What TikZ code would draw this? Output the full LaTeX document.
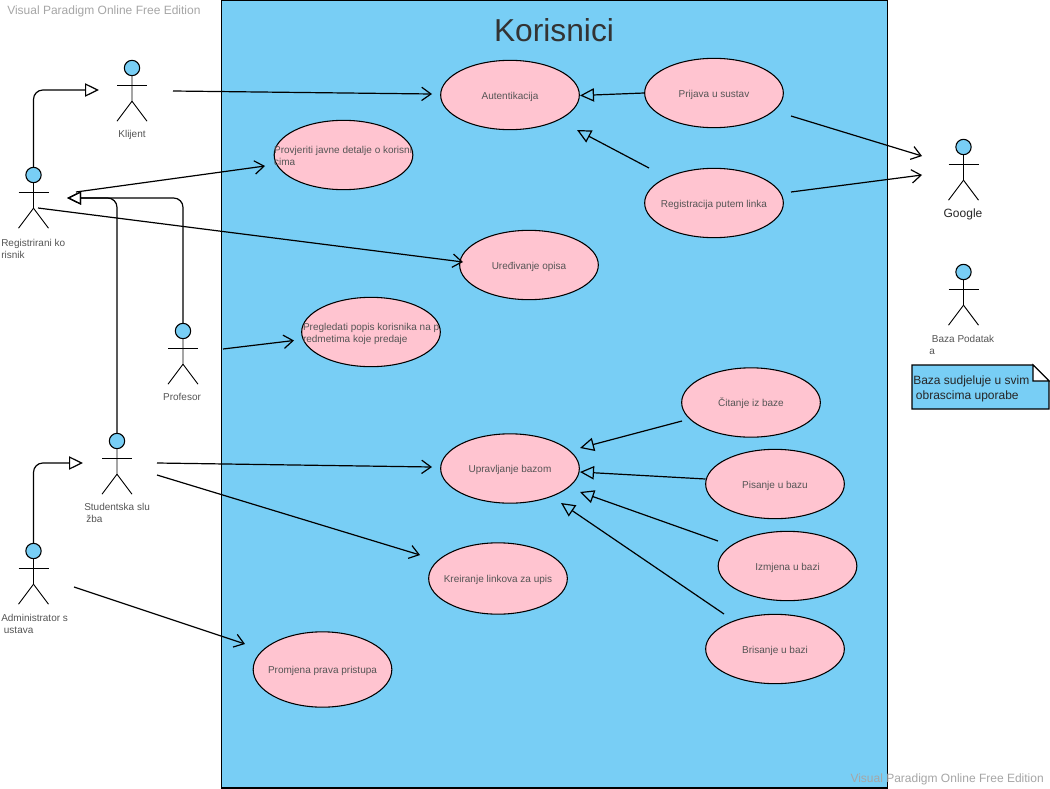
\documentclass[tikz,border=0pt]{standalone}
\usepackage{fontspec}
\setmainfont{Liberation Sans}
\usetikzlibrary{arrows.meta,calc,shapes.geometric}
\definecolor{skyb}{HTML}{78CEF5}
\definecolor{pinkb}{HTML}{FFC4D0}
\definecolor{txtc}{HTML}{555555}
\definecolor{wmark}{HTML}{A6A6A6}
\newcommand{\mkactor}[3]{%
  \node[actorhead] (#1) at (#2,#3) {};
  \draw[actorline] (#1.south) -- ++(0,25) coordinate (#1hip) -- ++(-15,20);
  \draw[actorline] (#1hip) -- ++(15,20);
  \draw[actorline] ($(#1.south)+(-15,9)$) -- ++(30,0);
}
\newcommand{\uc}[1]{\raisebox{-3.2pt}[0pt][0pt]{\makebox[0pt]{#1}}}
\newcommand{\ucl}[4]{\raisebox{#1}[0pt][0pt]{\makebox[0pt][l]{\hspace*{#2}\vbox{\hbox{#3}\hbox{#4}}}}}
\tikzset{
  x=0.75pt,y=-0.75pt,
  sys/.style={draw=black,fill=skyb,line width=0.8pt},
  usecase/.style={ellipse,draw=black,fill=pinkb,line width=0.8pt,minimum width=104pt,minimum height=52pt,inner sep=0pt,
     font=\fontsize{7.5pt}{9pt}\selectfont,text=txtc},
  actorhead/.style={circle,draw=black,fill=skyb,line width=0.8pt,minimum size=11.5pt,inner sep=0pt},
  actorline/.style={draw=black,line width=0.7pt},
  lbl/.style={font=\fontsize{7.5pt}{9pt}\selectfont,text=txtc,inner sep=0pt,align=left},
  assoc/.style={draw=black,line width=0.9pt,-{Straight Barb[length=7pt,width=10pt,line width=0.9pt]}},
  genl/.style={draw=black,line width=0.9pt,rounded corners=7pt,-{Triangle[open,length=10.5pt,width=10pt,line width=0.9pt]}},
  wm/.style={font=\fontsize{9pt}{10pt}\selectfont,text=wmark,inner sep=0pt},
}
\begin{document}
\begin{tikzpicture}
\useasboundingbox (0,0) rectangle (1050,789);
\fill[white] (0,0) rectangle (1050,789);
\node[draw=black,fill=skyb,line width=0.8pt,minimum width=499.5pt,minimum height=591pt,inner sep=0pt] (system) at (554.5,394) {};
\node[font=\fontsize{23.8pt}{28pt}\selectfont,text=black!80,inner sep=0pt] (title) at (554,30) {Korisnici};
\node[wm,anchor=west] (wm1) at (7,11) {Visual Paradigm Online Free Edition};
\node[wm,anchor=east] (wm2) at (1044,779) {Visual Paradigm Online Free Edition};

\node[usecase] (aut) at (510,95) {\uc{Autentikacija}};
\node[usecase] (pri) at (714,93) {\uc{Prijava u sustav}};
\node[usecase] (reg) at (714,203) {\uc{Registracija putem linka}};
\node[usecase] (pro) at (343.5,155) {\ucl{-8.2pt}{-52pt}{Provjeriti javne detalje o korisni}{cima}};
\node[usecase] (ure) at (529,265) {\uc{Uređivanje opisa}};
\node[usecase] (pre) at (371,332) {\ucl{-7.5pt}{-51pt}{Pregledati popis korisnika na p}{redmetima koje predaje}};
\node[usecase] (upr) at (510,468.5) {\uc{Upravljanje bazom}};
\node[usecase] (cit) at (751,402.5) {\uc{Čitanje iz baze}};
\node[usecase] (pis) at (775,484) {\uc{Pisanje u bazu}};
\node[usecase] (izm) at (787.5,566) {\uc{Izmjena u bazi}};
\node[usecase] (bri) at (775,649) {\uc{Brisanje u bazi}};
\node[usecase,minimum height=53.5pt] (kre) at (498,578.5) {\uc{Kreiranje linkova za upis}};
\node[usecase,minimum height=56.5pt] (prm) at (322.5,669.5) {\uc{Promjena prava pristupa}};

\mkactor{kl}{132}{68}
\mkactor{rk}{33.5}{175}
\mkactor{pf}{183}{331}
\mkactor{ss}{117}{441}
\mkactor{ad}{33.5}{551}
\mkactor{go}{963.5}{147}
\mkactor{bp}{963.5}{272}

\node[lbl] (lkl) at (132,135) {Klijent};
\node[lbl,anchor=west] (lrk) at (1,249) {Registrirani ko\\risnik};
\node[lbl] (lpf) at (182,397) {Profesor};
\node[lbl,anchor=west] (lss) at (84,513) {Studentska slu\\\hspace*{1.5pt}žba};
\node[lbl,anchor=west] (lad) at (1,623.5) {Administrator s\\\hspace*{2pt}ustava};
\node[lbl,text=black!85,font=\fontsize{9pt}{10pt}\selectfont] (lgo) at (963,214) {Google};
\node[lbl,anchor=west] (lbp) at (929,344.5) {\hspace*{2pt}Baza Podatak\\a};

% note
\path (912,365) coordinate (nA) (1033,365) coordinate (nB) (1049,381) coordinate (nC) (1049,409) coordinate (nD) (912,409) coordinate (nE) (1033,381) coordinate (nF);
\draw[sys] (nA) -- (nB) -- (nC) -- (nD) -- (nE) -- cycle;
\fill[white] (nB) -- (nC) -- (nF) -- cycle;
\draw[black,line width=0.8pt] (nB) -- (nF) -- (nC) -- cycle;
\node[inner sep=0pt,anchor=west,align=left,font=\fontsize{9pt}{11.2pt}\selectfont,text=black!85] (note) at (913,388.5) {Baza sudjeluje u svim\\\hspace*{2pt}obrascima uporabe};

% free ends
\coordinate (klout) at (173,91);
\coordinate (autin) at (432,94);
\coordinate (klin) at (99,90);
\coordinate (rkin) at (67,198);
\coordinate (rka) at (76,192);
\coordinate (rkb) at (38,208);
\coordinate (proin) at (265,166);
\coordinate (urein) at (463,262);
\coordinate (pfout) at (223,349);
\coordinate (prein) at (294,340.5);
\coordinate (ssa) at (157,463);
\coordinate (ssb) at (157,475);
\coordinate (ssin) at (83,463);
\coordinate (kremin) at (420,555);
\coordinate (ado) at (74,587);
\coordinate (prmin) at (245,644);
\coordinate (gi1) at (922,156);
\coordinate (gi2) at (922,175);
\coordinate (prio) at (791,116);
\coordinate (rego) at (791,192);
\coordinate (uprin) at (432,467);
\coordinate (regf) at (649,168);
\coordinate (autb) at (577,130);
\coordinate (autc) at (580,95.5);
\coordinate (citf) at (682,421);
\coordinate (upa) at (580,448);
\coordinate (pisf) at (705.5,479);
\coordinate (upb) at (580,472);
\coordinate (izmf) at (718,541);
\coordinate (upc) at (580,492);
\coordinate (brif) at (724,614);
\coordinate (upd) at (561,503);

% generalisation
\draw[genl] (rk.north) |- (klin);
\draw[genl] (pf.north) |- (rkin);
\draw[genl] (ss.north) |- (rkin);
\draw[genl] (ad.north) |- (ssin);
\draw[genl] (pri.west) -- (autc);
\draw[genl] (regf) -- (autb);
\draw[genl] (citf) -- (upa);
\draw[genl] (pisf) -- (upb);
\draw[genl] (izmf) -- (upc);
\draw[genl] (brif) -- (upd);

% association
\draw[assoc] (klout) -- (autin);
\draw[assoc] (rka) -- (proin);
\draw[assoc] (rkb) -- (urein);
\draw[assoc] (pfout) -- (prein);
\draw[assoc] (ssa) -- (uprin);
\draw[assoc] (ssb) -- (kremin);
\draw[assoc] (ado) -- (prmin);
\draw[assoc] (prio) -- (gi1);
\draw[assoc] (rego) -- (gi2);
\end{tikzpicture}
\end{document}
